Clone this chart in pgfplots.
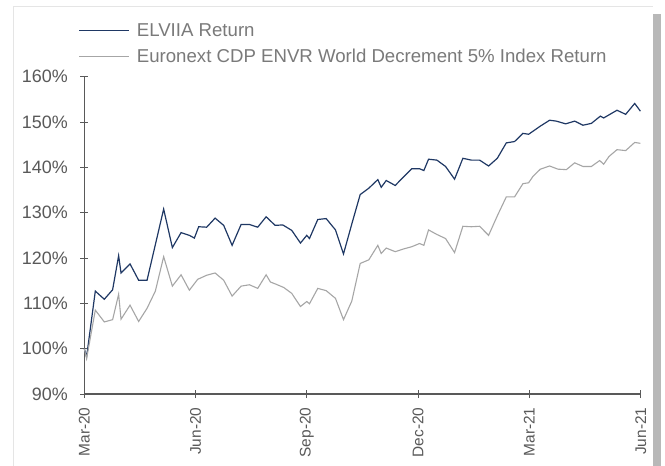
\documentclass[border=0pt]{standalone}
\usepackage{fontspec}
\setmainfont{Liberation Sans}
\usepackage{pgfplots}
\usepackage{pgfplotstable}
\pgfplotsset{compat=1.18}
\definecolor{navy}{HTML}{1F3864}
\definecolor{lgray}{HTML}{A6A6A6}
\definecolor{txt}{HTML}{595959}
\definecolor{legtxt}{HTML}{7A7A7A}
% columns: horizontal position (pixel), value in %
\pgfplotstableread{
px val
85 100.0
87.3 98.2
96 112.7
105 110.9
113.3 113.0
119.3 120.5
121.7 116.7
130.7 118.7
139.3 115.1
147.7 115.1
164.3 130.8
173 122.3
181.7 125.6
190 125.0
195 124.4
199.3 126.9
207.3 126.8
215.7 128.8
224.3 127.2
232.7 122.8
241.7 127.4
250 127.4
258.3 126.8
266.7 129.1
275.7 127.2
283.3 127.3
292.3 126.1
301 123.3
307.3 125.0
310 124.3
318.3 128.5
326.7 128.7
336 126.2
344 120.9
352.3 127.5
360.7 134.0
369.3 135.4
378.3 137.3
381.7 135.6
386.7 137.1
395.7 136.0
404 137.9
412.3 139.7
420 139.7
424.3 139.3
429 141.8
437.3 141.6
446 140.2
455 137.4
463.3 142.0
471.7 141.6
480 141.6
489 140.3
497.7 142.0
506.7 145.4
515 145.7
523.3 147.5
529 147.3
540.7 149.1
550 150.4
556.7 150.2
566 149.6
575 150.2
583.3 149.3
591.7 149.7
600.7 151.3
604 150.9
617.3 152.6
626 151.7
635 154.1
640.7 152.4
}\elviia
\pgfplotstableread{
px val
85 100.0
87.3 97.8
96 108.5
105 105.9
113.3 106.4
119.3 112.0
121.7 106.5
130.7 109.6
139.3 106.0
147.7 108.9
156 112.7
164.3 120.3
173 113.8
181.7 116.3
190 112.9
198.3 115.3
207.3 116.2
215.7 116.7
224.3 115.1
232.7 111.6
241.7 113.8
250 114.1
258.3 113.3
266.7 116.3
271 114.7
275.7 114.3
284.3 113.5
292.3 112.2
301 109.3
307.3 110.4
310 109.9
318.3 113.3
326.7 112.8
336 111.1
344 106.4
352.3 110.5
360.7 118.8
369.3 119.6
378.3 122.8
381.7 121.0
386.7 122.2
395.7 121.4
404 122.0
412.3 122.5
420 123.2
424.3 122.8
429 126.2
437.3 125.2
446 124.3
455 121.2
463.3 127.0
471.7 126.9
480 127.0
489 125.0
497.7 129.3
506.7 133.5
515 133.5
523.3 136.4
529 136.6
533.3 138.0
540.7 139.6
550 140.3
558.3 139.6
566.7 139.5
575 141.0
583.3 140.2
591.7 140.2
600 141.5
604 140.7
609.3 142.4
617.3 143.9
626 143.7
635 145.5
640.7 145.3
}\index
\begin{document}
\begin{tikzpicture}
\path[use as bounding box] (0bp,0bp) rectangle (665bp,466bp);
\fill[black!28] (653bp,0bp) rectangle (661bp,452bp);
\fill[white] (13bp,-2bp) rectangle (653bp,460bp);
\draw[black!10] (13bp,-2bp) -- (13bp,460bp) -- (653bp,460bp);
\begin{axis}[
  at={(84.3bp,72bp)}, anchor=south west,
  scale only axis, width=556.4bp, height=317.3bp,
  xmin=0, xmax=15, ymin=90, ymax=160,
  xtick={0,3,6,9,12,15},
  xticklabels={Mar-20,Jun-20,Sep-20,Dec-20,Mar-21,Jun-21},
  ytick={90,100,110,120,130,140,150,160},
  yticklabel={\pgfmathprintnumber{\tick}\%},
  /pgf/number format/assume math mode=true,
  axis lines=left,
  axis line style={-, draw=txt, line width=1.3pt},
  tick style={draw=txt, line width=1pt},
  major tick length=8bp,
  tick align=center,
  ticklabel style={font=\fontsize{18}{20}\selectfont, text=txt},
  x tick label style={rotate=90, anchor=east, xshift=-6bp, font=\fontsize{15.5}{18}\selectfont},
  y tick label style={xshift=-9bp},
  legend style={at={(-0.0155,1.18)}, anchor=north west, draw=none, fill=none,
    font=\fontsize{18.7}{21}\selectfont, text=legtxt, row sep=7bp,
    legend cell align=left},
  legend image code/.code={\draw[#1, line width=0.9pt] (0bp,0bp) -- (50bp,0bp); \path (55bp,0bp);},
  clip=false,
]
\addplot[navy, line width=1.2pt] table[x expr=(\thisrowno{0}-85)/37.0667, y=val] {\elviia};
\addlegendentry{ELVIIA Return}
\addplot[lgray, line width=1.1pt] table[x expr=(\thisrowno{0}-85)/37.0667, y=val] {\index};
\addlegendentry{Euronext CDP ENVR World Decrement 5\% Index Return}
\end{axis}
\end{tikzpicture}
\end{document}
